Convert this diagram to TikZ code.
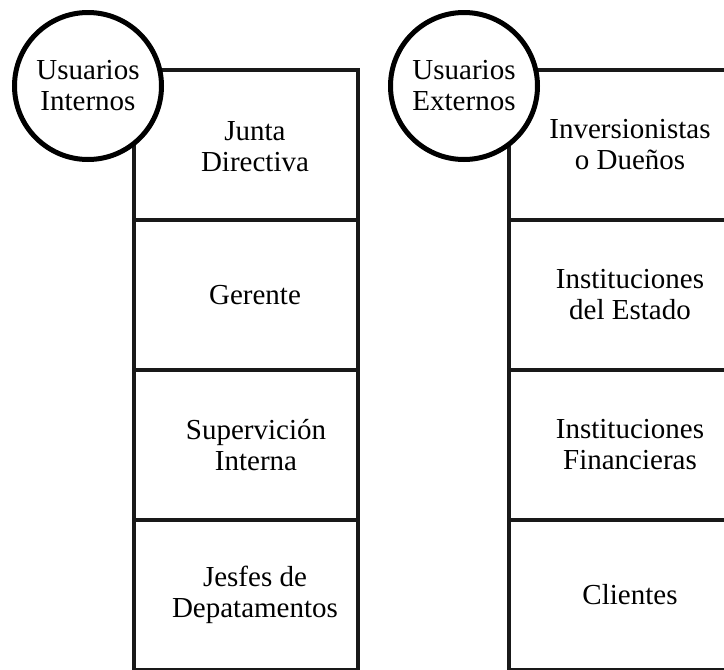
\documentclass[tikz,border=0pt]{standalone}
\usepackage{fontspec}
\setmainfont{Liberation Serif}
\begin{document}
\begin{tikzpicture}[x=1pt,y=-1pt,
  cell/.style={draw=black!90,line width=4.5pt,rectangle,minimum width=224pt,minimum height=150pt,inner sep=0pt,outer sep=0pt},
  usercircle/.style={draw=black,fill=white,line width=5pt,circle,minimum size=147pt,inner sep=0pt,outer sep=0pt},
  txt/.style={align=center,inner sep=0pt,font=\fontsize{29}{31}\selectfont}
]
\useasboundingbox (0,0) rectangle (724,670);
\clip (0,0) rectangle (724,670);
% left column
\node[cell] (l1) at (246,145) {};
\node[cell] (l2) at (246,295) {};
\node[cell] (l3) at (246,445) {};
\node[cell] (l4) at (246,595) {};
% right column
\node[cell] (r1) at (621,145) {};
\node[cell] (r2) at (621,295) {};
\node[cell] (r3) at (621,445) {};
\node[cell] (r4) at (621,595) {};
% circles
\node[usercircle] (ci) at (88,86) {};
\node[usercircle] (ce) at (464,86) {};
\node[txt] (tci) at (ci.center) {Usuarios\\Internos};
\node[txt] (tce) at (ce.center) {Usuarios\\Externos};
% texts
\node[txt] (tl1) at ([xshift=9pt,yshift=-2pt]l1.center) {Junta\\Directiva};
\node[txt] (tl2) at ([xshift=9pt]l2.center) {Gerente};
\node[txt] (tl3) at ([xshift=10pt]l3.center) {Supervición\\Interna};
\node[txt] (tl4) at ([xshift=9pt]l4.center) {Jesfes de\\Depatamentos};
\node[txt] (tr1) at ([xshift=9pt]r1.center) {Inversionistas\\o Dueños};
\node[txt] (tr2) at ([xshift=9pt]r2.center) {Instituciones\\del Estado};
\node[txt] (tr3) at ([xshift=9pt]r3.center) {Instituciones\\Financieras};
\node[txt] (tr4) at ([xshift=9pt]r4.center) {Clientes};
\end{tikzpicture}
\end{document}
